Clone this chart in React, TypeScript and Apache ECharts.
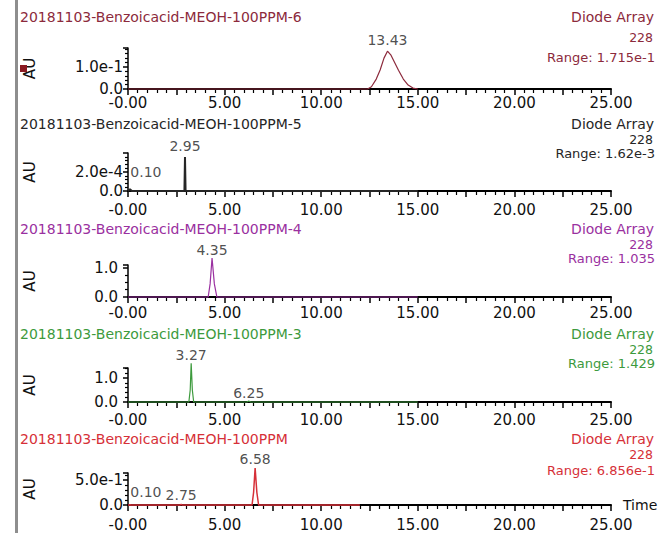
import React, { useEffect, useRef } from "react";
import * as echarts from "echarts";

// ---- data ----
const sampleNames = [
  "20181103-Benzoicacid-MEOH-100PPM-6",
  "20181103-Benzoicacid-MEOH-100PPM-5",
  "20181103-Benzoicacid-MEOH-100PPM-4",
  "20181103-Benzoicacid-MEOH-100PPM-3",
  "20181103-Benzoicacid-MEOH-100PPM",
];
const detectorName = "Diode Array";
const wavelengthLabel = "228";
const rangeLabels = [
  "Range: 1.715e-1",
  "Range: 1.62e-3",
  "Range: 1.035",
  "Range: 1.429",
  "Range: 6.856e-1",
];
const yAxisName = "AU";
const xAxisName = "Time";

const trace6: number[][] = [
  [0, 0], [12.4, 0], [12.6, 0.01], [12.85, 0.045], [13.05, 0.086], [13.25, 0.14],
  [13.43, 0.1715], [13.6, 0.155], [13.8, 0.12], [14.0, 0.085], [14.25, 0.045],
  [14.5, 0.018], [14.75, 0.004], [15, 0],
];
const trace5: number[][] = [
  [0, 0], [0.1, 0.00002], [0.2, 0], [2.92, 0], [2.95, 0.000358], [2.98, 0], [15, 0],
];
const trace4: number[][] = [
  [0, 0], [4.15, 0], [4.25, 0.45], [4.35, 1.34], [4.47, 0.45], [4.6, 0], [15, 0],
];
const trace3: number[][] = [
  [0, 0], [3.15, 0], [3.22, 0.5], [3.27, 1.62], [3.33, 0.5], [3.4, 0],
  [6.15, 0], [6.25, 0.04], [6.35, 0], [15, 0],
];
const trace1: number[][] = [
  [0, 0], [0.05, 0], [0.1, 0.006], [0.15, 0], [2.7, 0], [2.75, 0.015], [2.8, 0],
  [6.42, 0], [6.5, 0.25], [6.58, 0.74], [6.67, 0.25], [6.76, 0], [12, 0],
];
const traces = [trace6, trace5, trace4, trace3, trace1];

// peak labels: [retention time, apex value]
const peaks6 = [[13.43, 0.1715]];
const peaks5 = [[2.95, 0.000358]];
const peaks4 = [[4.35, 1.34]];
const peaks3 = [[3.27, 1.62], [6.25, 0.04]];
const peaks1 = [[6.58, 0.74], [2.75, 0.015]];
const peakSets = [peaks6, peaks5, peaks4, peaks3, peaks1];
// early peaks whose label sits up and to the right
const offsetPeaks = [[], [[0.1, 0.00002]], [], [], [[0.1, 0.006]]];

const yMax = [0.186, 0.0004, 1.1, 1.42, 0.64];
const yStep = [0.1, 0.0002, 1.0, 1.0, 0.5];
const yFormat = ["exp", "exp", "fixed", "fixed", "exp"];
const xMin = 0;
const xMax = 25;
const xStep = 2.5;
const xLabelStep = 5;

// ---- styles / layout ----
const colors = ["#8c2a3c", "#262626", "#9a30a0", "#3d9a3d", "#d63038"];
const FONT = "DejaVu Sans";
const gridTop = [48, 153, 265, 368, 473];
const gridBase = [89, 191, 297, 402, 505];
const titleY = [18, 125, 230, 335, 440];
const wlY = [37, 139, 244, 349, 454];
const rangeY = [57, 153, 258, 363, 470];
const xLabelMargin = [6, 11, 8, 10, 12];
const yLabelMargin = [5, 5, 10, 10, 5];
const yMinorSplit = [5, 5, 4, 5, 5];
const peakLabelDist = [4, 3, 1, 1, 2];
const lineWidths = [1.2, 2, 1.2, 1.2, 1.5];

export default function App() {
  const ref = useRef<HTMLDivElement>(null);
  useEffect(() => {
    if (!ref.current) return;
    const chart = echarts.init(ref.current, undefined, { renderer: "svg" });
    const grids: any[] = [];
    const xAxes: any[] = [];
    const yAxes: any[] = [];
    const series: any[] = [];
    const titles: any[] = [];
    const ts = (c: string, size: number) => ({
      fontFamily: FONT,
      fontSize: size,
      fontWeight: "normal",
      color: c,
    });
    for (let i = 0; i < 5; i++) {
      grids.push({
        left: 128,
        right: 51,
        top: gridTop[i],
        height: gridBase[i] - gridTop[i],
      });
      const isLast = i === 4;
      xAxes.push({
        type: "value",
        gridIndex: i,
        min: xMin,
        max: xMax,
        interval: xStep,
        name: isLast ? xAxisName : "",
        nameLocation: "end",
        nameGap: 12,
        nameTextStyle: { fontFamily: FONT, fontSize: 14, color: "#111" },
        axisLine: { show: true, onZero: false, lineStyle: { color: "#000", width: 2 } },
        axisTick: { show: true, length: 6, lineStyle: { color: "#000", width: 1.5 } },
        minorTick: { show: true, splitNumber: 5, length: 4, lineStyle: { color: "#000", width: 1.2 } },
        splitLine: { show: false },
        axisLabel: {
          margin: xLabelMargin[i],
          fontFamily: FONT,
          fontSize: 15,
          color: "#111",
          formatter: (v: number) => {
            if (Math.abs(v % xLabelStep) > 1e-9) return "";
            return v === 0 ? "-0.00" : v.toFixed(2);
          },
        },
      });
      yAxes.push({
        type: "value",
        gridIndex: i,
        min: 0,
        max: yMax[i],
        interval: yStep[i],
        name: yAxisName,
        nameLocation: "middle",
        nameRotate: 90,
        nameGap: 91,
        nameTextStyle: { fontFamily: FONT, fontSize: 15, color: "#111" },
        axisLine: { show: true, onZero: false, lineStyle: { color: "#000", width: 1.5 } },
        axisTick: { show: true, length: 5, lineStyle: { color: "#000", width: 1.5 } },
        minorTick: { show: true, splitNumber: yMinorSplit[i], length: 3, lineStyle: { color: "#000", width: 1.2 } },
        splitLine: { show: false },
        axisLabel: {
          margin: yLabelMargin[i],
          fontFamily: FONT,
          fontSize: 15,
          color: "#111",
          showMaxLabel: false,
          formatter: (v: number) => {
            if (v === 0) return "0.0";
            return yFormat[i] === "exp" ? v.toExponential(1) : v.toFixed(1);
          },
        },
      });
      series.push({
        type: "line",
        xAxisIndex: i,
        yAxisIndex: i,
        data: traces[i],
        showSymbol: false,
        symbol: "none",
        clip: false,
        lineStyle: { color: colors[i], width: lineWidths[i] },
        z: 3,
      });
      series.push({
        type: "scatter",
        xAxisIndex: i,
        yAxisIndex: i,
        data: peakSets[i],
        symbolSize: 1,
        clip: false,
        itemStyle: { color: "rgba(0,0,0,0)" },
        label: {
          show: true,
          position: "top",
          distance: peakLabelDist[i],
          fontFamily: FONT,
          fontSize: 14,
          color: "#222",
          formatter: (p: any) => (p.value[0] as number).toFixed(2),
        },
        z: 4,
      });
      if (offsetPeaks[i].length) {
        series.push({
          type: "scatter",
          xAxisIndex: i,
          yAxisIndex: i,
          data: offsetPeaks[i],
          symbolSize: 1,
          clip: false,
          itemStyle: { color: "rgba(0,0,0,0)" },
          label: {
            show: true,
            position: "top",
            distance: 2,
            offset: [16, i === 1 ? -8 : -3],
            fontFamily: FONT,
            fontSize: 14,
            color: "#222",
            formatter: (p: any) => (p.value[0] as number).toFixed(2),
          },
          z: 4,
        });
      }
      titles.push({
        text: sampleNames[i],
        left: 20,
        top: titleY[i] - 8,
        padding: 0,
        textStyle: ts(colors[i], 14),
      });
      titles.push({
        text: detectorName,
        right: 8,
        top: titleY[i] - 8,
        padding: 0,
        textStyle: ts(colors[i], 14),
      });
      titles.push({
        text: wavelengthLabel,
        right: 9,
        top: wlY[i] - 6,
        padding: 0,
        textStyle: ts(colors[i], 12.5),
      });
      titles.push({
        text: rangeLabels[i],
        right: 7,
        top: rangeY[i] - 6,
        padding: 0,
        textStyle: ts(colors[i], 13),
      });
    }
    chart.setOption({
      animation: false,
      backgroundColor: "#ffffff",
      title: titles,
      grid: grids,
      xAxis: xAxes,
      yAxis: yAxes,
      series,
    });
    return () => chart.dispose();
  }, []);
  return (
    <div style={{ position: "fixed", left: 0, top: 0, width: 662, height: 533, background: "#fff" }}>
      <div ref={ref} style={{ position: "absolute", left: 0, top: 0, width: 662, height: 533 }} />
      <div
        style={{ position: "absolute", left: 15, top: 0, width: 2.5, height: 533, background: "#8e8e8e" }}
      />
      <div
        style={{ position: "absolute", left: 20, top: 65, width: 7, height: 7, background: "#8b1a22" }}
      />
    </div>
  );
}
